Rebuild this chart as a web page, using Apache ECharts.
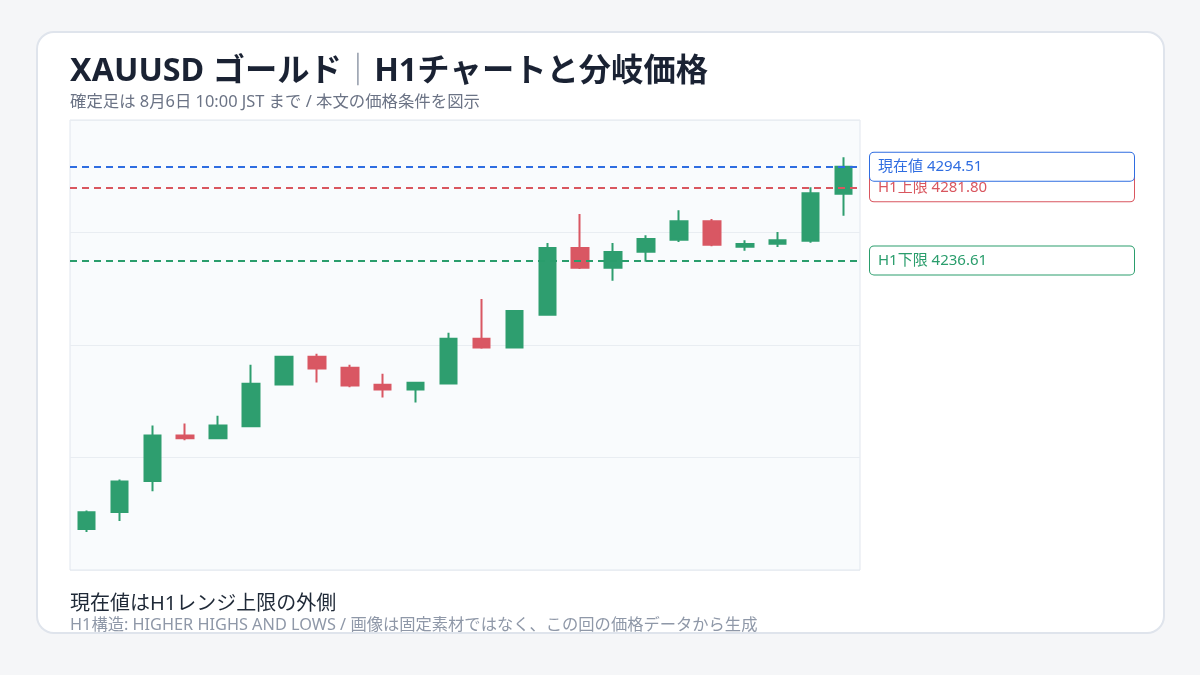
<!DOCTYPE html>
<html lang="ja">
<head>
<meta charset="utf-8">
<title>XAUUSD H1</title>
<script src="https://cdn.jsdelivr.net/npm/echarts@6/dist/echarts.min.js"></script>
<style>
  html, body { margin: 0; padding: 0; background: #f5f6f8; }
  #card {
    position: absolute;
    left: 36px;
    top: 31px;
    width: 1129px;
    height: 603px;
    box-sizing: border-box;
    border: 2px solid #dfe4ec;
    border-radius: 18px;
    background: #ffffff;
    overflow: hidden;
  }
  #chart { width: 1125px; height: 599px; }
</style>
</head>
<body>
<div id="card"><div id="chart"></div></div>
<script>
// H1 candles, 8/5 11:00 -> 8/6 10:00 JST
const hours = [
  "8/5 11:00", "8/5 12:00", "8/5 13:00", "8/5 14:00", "8/5 15:00", "8/5 16:00",
  "8/5 17:00", "8/5 18:00", "8/5 19:00", "8/5 20:00", "8/5 21:00", "8/5 22:00",
  "8/5 23:00", "8/6 00:00", "8/6 01:00", "8/6 02:00", "8/6 03:00", "8/6 04:00",
  "8/6 05:00", "8/6 06:00", "8/6 07:00", "8/6 08:00", "8/6 09:00", "8/6 10:00",
];
const opens = [4070.8, 4081.3, 4100.4, 4128.5, 4126.9, 4134.2, 4160.1, 4177.2, 4170.4, 4159.9, 4157.0, 4160.7,
  4188.3, 4182.9, 4203.2, 4244.3, 4232.2, 4242.0, 4249.4, 4260.9, 4245.1, 4247.0, 4248.8, 4277.8];
const closes = [4081.1, 4100.2, 4128.5, 4126.9, 4134.7, 4160.5, 4177.2, 4170.0, 4159.5, 4157.0, 4161.2, 4188.3,
  4182.9, 4205.5, 4244.3, 4232.2, 4241.9, 4249.9, 4260.9, 4246.3, 4246.8, 4249.2, 4278.2, 4294.51];
const lows = [4069.0, 4075.7, 4094.2, 4125.6, 4126.9, 4133.6, 4159.5, 4161.3, 4158.3, 4152.1, 4149.0, 4160.1,
  4182.1, 4182.9, 4202.6, 4231.4, 4224.2, 4235.9, 4248.0, 4245.5, 4242.7, 4244.9, 4247.6, 4264.2];
const highs = [4082.3, 4101.4, 4134.7, 4135.9, 4140.8, 4172.2, 4177.8, 4179.0, 4172.2, 4166.7, 4161.2, 4192.0,
  4212.9, 4206.1, 4247.4, 4265.3, 4247.4, 4252.3, 4267.7, 4262.2, 4249.2, 4254.2, 4281.8, 4300.4];

// reference levels (current last so its tag sits on top)
const levelNames = ["H1上限", "H1下限", "現在値"];
const levelValues = [4281.80, 4236.61, 4294.51];
const levelColors = ["#d9565f", "#2a9d6c", "#2f6de1"];

const priceMin = 4045.5;
const priceMax = 4323.4;

const UP = "#2e9e6f";
const DOWN = "#d95763";
const FONT = '"Noto Sans", "Noto Sans CJK JP", sans-serif';

const chart = echarts.init(document.getElementById("chart"));

const candles = hours.map((_, i) => [opens[i], closes[i], lows[i], highs[i]]);

const levelLines = levelNames.map((name, i) => ({
  name,
  yAxis: levelValues[i],
  lineStyle: { color: levelColors[i] },
  label: {
    color: levelColors[i],
    borderColor: levelColors[i],
  },
}));

chart.setOption({
  animation: false,
  textStyle: { fontFamily: FONT },
  title: [
    {
      left: 32,
      top: 20,
      padding: 0,
      text: "{a|XAUUSD ゴールド}{s|｜}{a|H1チャートと分岐価格}",
      textStyle: {
        rich: {
          a: { fontFamily: FONT, fontSize: 32.3, fontWeight: "bold", color: "#1a2233", lineHeight: 38 },
          s: { fontFamily: FONT, fontSize: 32.3, fontWeight: "normal", color: "#8a93a3", lineHeight: 38 },
        },
      },
    },
    {
      left: 32,
      top: 59,
      padding: 0,
      text: "確定足は 8月6日 10:00 JST まで / 本文の価格条件を図示",
      textStyle: { fontFamily: FONT, fontSize: 16.4, fontWeight: "normal", color: "#6b7385", lineHeight: 20 },
    },
    {
      left: 32,
      top: 558,
      padding: 0,
      text: "現在値はH1レンジ上限の外側",
      textStyle: { fontFamily: FONT, fontSize: 20, fontWeight: "normal", color: "#1f2937", lineHeight: 26 },
    },
    {
      left: 32,
      top: 581,
      padding: 0,
      text: "H1構造: HIGHER HIGHS AND LOWS / 画像は固定素材ではなく、この回の価格データから生成",
      textStyle: { fontFamily: FONT, fontSize: 16.3, fontWeight: "normal", color: "#8f98a8", lineHeight: 22 },
    },
  ],
  grid: {
    left: 32,
    top: 87,
    width: 790,
    height: 450,
    show: true,
    backgroundColor: "#f9fbfd",
    borderColor: "#e1e6ee",
    borderWidth: 1,
  },
  xAxis: {
    type: "category",
    data: hours,
    boundaryGap: true,
    axisLine: { show: false },
    axisTick: { show: false },
    axisLabel: { show: false },
    splitLine: { show: false },
  },
  yAxis: [
    {
      type: "value",
      min: priceMin,
      max: priceMax,
      axisLine: { show: false },
      axisTick: { show: false },
      axisLabel: { show: false },
      splitLine: { show: false },
    },
    {
      // quarter lines of the price panel
      type: "value",
      min: 0,
      max: 4,
      interval: 1,
      position: "left",
      axisLine: { show: false },
      axisTick: { show: false },
      axisLabel: { show: false },
      splitLine: { show: true, lineStyle: { color: "#e9edf2", width: 1 } },
    },
  ],
  series: [
    {
      type: "candlestick",
      yAxisIndex: 0,
      data: candles,
      barWidth: 17,
      itemStyle: {
        color: UP,
        color0: DOWN,
        borderColor: UP,
        borderColor0: DOWN,
        borderWidth: 2,
      },
      markLine: {
        silent: true,
        symbol: ["none", "none"],
        lineStyle: { type: [7, 5], width: 2 },
        label: {
          position: "end",
          distance: 10,
          formatter: (p) => `${p.name} ${p.value.toFixed(2)}`,
          fontFamily: FONT,
          fontSize: 15,
          backgroundColor: "#ffffff",
          borderWidth: 1,
          borderRadius: 4,
          padding: [5, 8],
          width: 248,
          lineHeight: 18,
          align: "left",
        },
        data: levelLines,
      },
    },
  ],
});

window.addEventListener("resize", () => chart.resize());
</script>
</body>
</html>
